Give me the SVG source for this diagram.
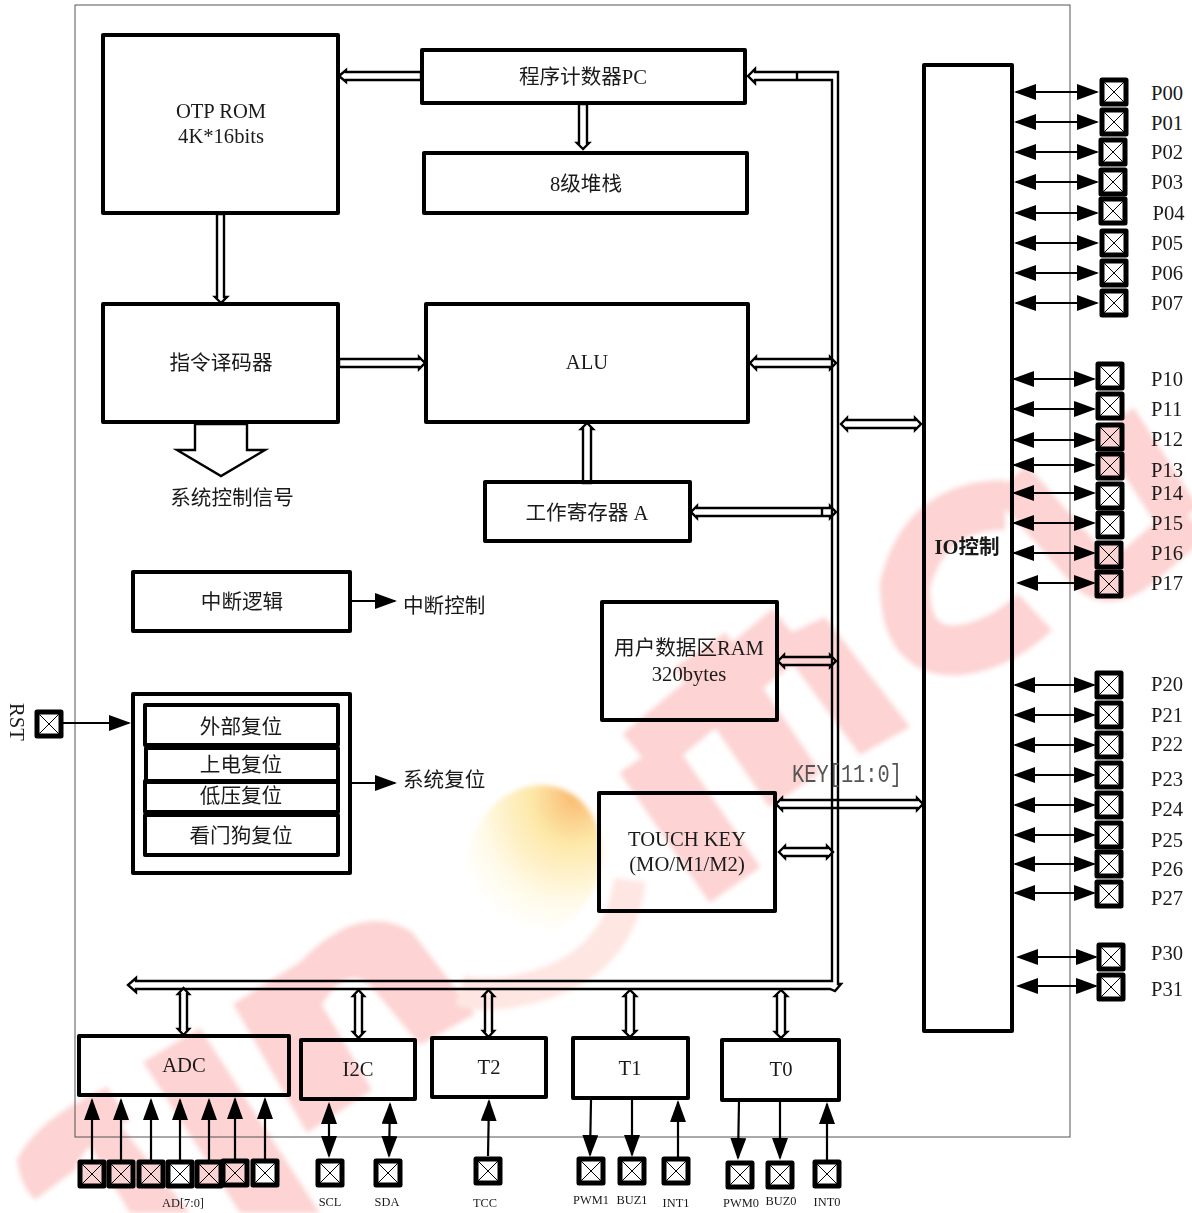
<svg xmlns="http://www.w3.org/2000/svg" width="1192" height="1213" viewBox="0 0 1192 1213">
<style>
text{font-family:"Liberation Serif","Noto Sans CJK SC",serif;font-size:20.6px;fill:#1a1a1a;text-anchor:middle}
.l{text-anchor:start}
.s{font-size:12.4px}
.b{fill:none;stroke:#000;stroke-width:4;stroke-linejoin:round}
.h{fill:none;stroke:#000;stroke-width:2.400;stroke-linejoin:miter}
.a{fill:none;stroke:#000;stroke-width:2.200;marker-end:url(#ah)}
.d{fill:none;stroke:#000;stroke-width:2.200;marker-start:url(#ah);marker-end:url(#ah)}
.wm{fill:#fdd3d3;stroke:none}
.ws{fill:none;stroke:#fdd3d3;stroke-linecap:butt;stroke-linejoin:round}
.wt{fill:#fff}
.pk{fill:#fbd3d3}
</style>
<defs>
<marker id="ah" markerUnits="userSpaceOnUse" markerWidth="22" markerHeight="16" refX="20" refY="8" orient="auto-start-reverse" viewBox="0 0 22 16"><path d="M0 0L22 8L0 16Z" fill="#000"/></marker>
<g id="pad"><rect x="-12" y="-12" width="24" height="24" stroke="#000" stroke-width="5" stroke-linejoin="round"/><path d="M-10-10L10 10M10-10L-10 10" stroke="#000" stroke-width="1" fill="none"/></g>
<radialGradient id="sun" cx="0.62" cy="0" r="0.95"><stop offset="0" stop-color="#fab870"/><stop offset="0.35" stop-color="#fde8a8"/><stop offset="0.75" stop-color="#fffae8"/><stop offset="1" stop-color="#fff"/></radialGradient>
<filter id="bl" x="-5%" y="-5%" width="110%" height="110%"><feGaussianBlur stdDeviation="2.500"/></filter>
</defs>
<g id="watermark" filter="url(#bl)">
<path class="wm" d="M17 1160Q35 1120 107 1087L130 1120Q85 1140 75 1170L35 1200Q20 1185 17 1160Z"/>
<path class="wm" d="M70 1113L100 1100L190 1213H130Z"/>
<path class="wm" d="M143 1062L200 1028L320 1213H240Z"/>
<path class="wm" d="M233 1004L300 962Q360 900 412 932L475 1014L420 1045L370 985Q345 965 322 1005L372 1090L307 1133Z"/>
<ellipse cx="535" cy="860" rx="66" ry="76" fill="url(#sun)" transform="rotate(20 535 860)"/>
<path d="M630 880Q620 960 540 985Q490 1000 460 990" fill="none" stroke="#fee6e2" stroke-width="32"/>
<path class="ws" stroke-width="62" d="M645 755L735 885"/>
<path class="ws" stroke-width="55" d="M640 755L790 630"/>
<path class="ws" stroke-width="62" d="M700 650L795 790"/>
<path class="wm" d="M775 640L825 617L910 727L860 755Z"/>
<path class="ws" stroke-width="50" d="M1005 505Q925 505 905 585Q905 655 960 650Q1000 645 1035 612"/>
<path class="ws" stroke-width="45" d="M1010 480L1090 570Q1110 590 1140 565L1192 520"/>
<path class="ws" stroke-width="45" d="M1115 420L1180 520"/>
</g>
<rect id="frame" x="75" y="5" width="995" height="1132" fill="none" stroke="#555" stroke-width="1"/>
<g id="connectors">
<polygon class="h" points="748,76 755,69 755,72 838,72 838,984 841,984 835,991 830,989 136,989 136,992 128,985 136,978 136,981 832,981 832,80 755,80 755,83"/>
<path class="h" d="M797 72V80"/>
<polygon class="h" points="339,76 346,70 346,72 421,72 421,80 346,80 346,82"/>
<polygon class="h" points="583,149 577,143 579,143 579,104 587,104 587,143 589,143"/>
<polygon class="h" points="221,303 215,297 217,297 217,214 224,214 224,297 227,297"/>
<polygon class="h" points="425,363 419,357 419,359 339,359 339,367 419,367 419,369"/>
<polygon class="h" points="750,363 756,357 756,359 830,359 830,357 836,363 830,369 830,367 756,367 756,369"/>
<polygon class="h" points="587,423 581,429 583,429 583,483 591,483 591,429 593,429"/>
<polygon class="h" points="691,512 697,506 697,508 830,508 830,506 836,512 830,518 830,516 697,516 697,518"/>
<path class="h" d="M822 508V516"/>
<polygon class="h" points="841,424 847,418 847,420 915,420 915,418 921,424 915,430 915,428 847,428 847,430"/>
<polygon class="h" points="778,661 784,655 784,657 830,657 830,655 836,661 830,667 830,665 784,665 784,667"/>
<polygon class="h" points="776,804 782,798 782,800 917,800 917,798 923,804 917,810 917,808 782,808 782,810"/>
<polygon class="h" points="779,852 785,846 785,848 827,848 827,846 833,852 827,858 827,856 785,856 785,858"/>
<polygon class="h" points="183.500,988 178,994 180,994 180,1029 178,1029 183.500,1035 189,1029 187,1029 187,994 189,994"/>
<polygon class="h" points="358.500,990 353,996 355,996 355,1032 353,1032 358.500,1038 364,1032 362,1032 362,996 364,996"/>
<polygon class="h" points="488.500,990 483,996 485,996 485,1031 483,1031 488.500,1037 494,1031 492,1031 492,996 494,996"/>
<polygon class="h" points="630,990 624,996 626,996 626,1031 624,1031 630,1037 636,1031 634,1031 634,996 636,996"/>
<polygon class="h" points="781,990 775,996 777,996 777,1032 775,1032 781,1038 787,1032 785,1032 785,996 787,996"/>
<polygon class="h" points="195,424 195,450 177,450 221,476 265,450 247,450 247,424"/>
<path class="a" d="M352 601H395"/>
<path class="a" d="M352 783H395"/>
<path class="a" d="M63 723H129"/>
<path class="d" d="M1016 92H1097"/><path class="d" d="M1016 122H1097"/><path class="d" d="M1016 152H1097"/><path class="d" d="M1016 182H1097"/><path class="d" d="M1016 213H1097"/><path class="d" d="M1016 243H1097"/><path class="d" d="M1016 273H1097"/><path class="d" d="M1016 303H1097"/>
<path class="d" d="M1014 379H1094"/><path class="d" d="M1014 409H1094"/><path class="d" d="M1014 440H1094"/><path class="d" d="M1014 465H1094"/><path class="d" d="M1014 493H1094"/><path class="d" d="M1014 523H1094"/><path class="d" d="M1014 553H1094"/><path class="d" d="M1018 583H1094"/>
<path class="d" d="M1015 685H1094"/><path class="d" d="M1015 715H1094"/><path class="d" d="M1015 745H1094"/><path class="d" d="M1015 775H1094"/><path class="d" d="M1015 805H1094"/><path class="d" d="M1015 835H1094"/><path class="d" d="M1015 864H1094"/><path class="d" d="M1015 893H1094"/>
<path class="d" d="M1018 957H1096"/><path class="d" d="M1018 986H1096"/>
<path class="a" d="M92 1160V1100"/><path class="a" d="M121 1160V1100"/><path class="a" d="M151 1160V1100"/><path class="a" d="M180 1160V1100"/><path class="a" d="M209 1160V1100"/><path class="a" d="M235 1159V1099"/><path class="a" d="M265 1159V1099"/>
<path class="d" d="M329 1104V1156"/><path class="d" d="M390 1104L389 1156"/>
<path class="a" d="M488 1156L489 1101"/>
<path class="a" d="M591 1100L590 1155"/><path class="a" d="M632 1100V1155"/><path class="a" d="M678 1157V1102"/>
<path class="a" d="M739 1101L738 1158"/><path class="a" d="M780 1101V1158"/><path class="a" d="M827 1160V1104"/>
</g>
<g id="otp"><rect class="b" x="103" y="35" width="235" height="178"/><text x="221" y="118">OTP ROM</text><text x="221" y="143">4K*16bits</text></g>
<g id="pc"><rect class="b" x="422" y="50" width="323" height="53"/><text x="583" y="84">程序计数器PC</text></g>
<g id="stack"><rect class="b" x="424" y="153" width="323" height="60"/><text x="586" y="191">8级堆栈</text></g>
<g id="decoder"><rect class="b" x="103" y="304" width="235" height="118"/><text x="221" y="370">指令译码器</text></g>
<g id="alu"><rect class="b" x="426" y="304" width="322" height="118"/><text x="587" y="369">ALU</text></g>
<g id="ctrl-signal"><text x="232" y="505">系统控制信号</text></g>
<g id="acc"><rect class="b" x="485" y="482" width="205" height="59"/><text x="587" y="520">工作寄存器 A</text></g>
<g id="int"><rect class="b" x="133" y="572" width="217" height="59"/><text x="242" y="609">中断逻辑</text></g>
<g id="int-ctrl"><text class="l" x="403" y="613">中断控制</text></g>
<g id="reset">
<rect class="b" x="133" y="694" width="217" height="179"/>
<rect class="b" x="145" y="705" width="193" height="40"/><text x="241" y="734">外部复位</text>
<text x="241" y="772">上电复位</text><rect class="b" x="146" y="748" width="192" height="34"/>
<rect class="b" x="145" y="781" width="193" height="31"/><text x="241" y="803">低压复位</text>
<rect class="b" x="145" y="815" width="193" height="40"/><text x="241" y="843">看门狗复位</text>
</g>
<g id="sys-reset"><text class="l" x="403" y="787">系统复位</text></g>
<g id="rst"><use href="#pad" x="49" y="724" class="wt"/><text x="16" y="722" transform="rotate(90 16 722)" dy="6">RST</text></g>
<g id="ram"><rect class="b" x="602" y="602" width="175" height="118"/><text x="689" y="655">用户数据区RAM</text><text x="689" y="681">320bytes</text></g>
<g id="touch"><rect class="b" x="599" y="793" width="176" height="118"/><text x="687" y="846">TOUCH KEY</text><text x="687" y="871">(MO/M1/M2)</text></g>
<g id="key-label"><text x="847" y="782" style="font-family:'Liberation Mono',monospace;font-size:25px;fill:#555" textLength="110" lengthAdjust="spacingAndGlyphs">KEY[11:0]</text></g>
<g id="io"><rect class="b" x="924" y="65" width="88" height="966"/><text x="967" y="554" font-weight="bold">IO控制</text></g>
<g id="adc"><rect class="b" x="79" y="1036" width="210" height="59"/><text x="184" y="1072">ADC</text></g>
<g id="i2c"><rect class="b" x="301" y="1040" width="114" height="59"/><text x="358" y="1076">I2C</text></g>
<g id="t2"><rect class="b" x="432" y="1038" width="114" height="59"/><text x="489" y="1074">T2</text></g>
<g id="t1"><rect class="b" x="573" y="1038" width="115" height="60"/><text x="630" y="1075">T1</text></g>
<g id="t0"><rect class="b" x="722" y="1040" width="117" height="60"/><text x="781" y="1076">T0</text></g>
<g id="p00"><use href="#pad" x="1114" y="92" class="wt"/><text class="l" x="1151" y="100">P00</text></g>
<g id="p01"><use href="#pad" x="1114" y="122" class="wt"/><text class="l" x="1151" y="130">P01</text></g>
<g id="p02"><use href="#pad" x="1113" y="152" class="wt"/><text class="l" x="1151" y="159">P02</text></g>
<g id="p03"><use href="#pad" x="1113" y="182" class="wt"/><text class="l" x="1151" y="189">P03</text></g>
<g id="p04"><use href="#pad" x="1113" y="211" class="wt"/><text class="l" x="1152.500" y="220">P04</text></g>
<g id="p05"><use href="#pad" x="1114" y="243" class="wt"/><text class="l" x="1151" y="250">P05</text></g>
<g id="p06"><use href="#pad" x="1114" y="273" class="wt"/><text class="l" x="1151" y="280">P06</text></g>
<g id="p07"><use href="#pad" x="1114" y="303" class="wt"/><text class="l" x="1151" y="310">P07</text></g>
<g id="p10"><use href="#pad" x="1110" y="376" class="wt"/><text class="l" x="1151" y="386">P10</text></g>
<g id="p11"><use href="#pad" x="1110" y="406" class="wt"/><text class="l" x="1151" y="416">P11</text></g>
<g id="p12"><use href="#pad" x="1110" y="437" class="pk"/><text class="l" x="1151" y="446">P12</text></g>
<g id="p13"><use href="#pad" x="1110" y="466" class="pk"/><text class="l" x="1151" y="477">P13</text></g>
<g id="p14"><use href="#pad" x="1110" y="496" class="wt"/><text class="l" x="1151" y="500">P14</text></g>
<g id="p15"><use href="#pad" x="1110" y="525" class="wt"/><text class="l" x="1151" y="530">P15</text></g>
<g id="p16"><use href="#pad" x="1109" y="555" class="pk"/><text class="l" x="1151" y="560">P16</text></g>
<g id="p17"><use href="#pad" x="1109" y="584" class="pk"/><text class="l" x="1151" y="590">P17</text></g>
<g id="p20"><use href="#pad" x="1109" y="685" class="wt"/><text class="l" x="1151" y="691">P20</text></g>
<g id="p21"><use href="#pad" x="1109" y="715" class="wt"/><text class="l" x="1151" y="722">P21</text></g>
<g id="p22"><use href="#pad" x="1109" y="745" class="wt"/><text class="l" x="1151" y="751">P22</text></g>
<g id="p23"><use href="#pad" x="1109" y="775" class="wt"/><text class="l" x="1151" y="786">P23</text></g>
<g id="p24"><use href="#pad" x="1109" y="805" class="wt"/><text class="l" x="1151" y="816">P24</text></g>
<g id="p25"><use href="#pad" x="1109" y="835" class="wt"/><text class="l" x="1151" y="847">P25</text></g>
<g id="p26"><use href="#pad" x="1109" y="864" class="wt"/><text class="l" x="1151" y="876">P26</text></g>
<g id="p27"><use href="#pad" x="1109" y="894" class="wt"/><text class="l" x="1151" y="905">P27</text></g>
<g id="p30"><use href="#pad" x="1111" y="957" class="wt"/><text class="l" x="1151" y="960">P30</text></g>
<g id="p31"><use href="#pad" x="1111" y="987" class="wt"/><text class="l" x="1151" y="996">P31</text></g>
<g id="ad-pads">
<use href="#pad" x="92" y="1174" class="pk"/><use href="#pad" x="121" y="1174" class="pk"/><use href="#pad" x="151" y="1174" class="pk"/><use href="#pad" x="180" y="1174" class="wt"/><use href="#pad" x="209" y="1174" class="pk"/><use href="#pad" x="235" y="1173" class="pk"/><use href="#pad" x="265" y="1173" class="wt"/>
<text class="s" x="183" y="1207">AD[7:0]</text></g>
<g id="scl"><use href="#pad" x="330" y="1173" class="wt"/><text class="s" x="330" y="1206">SCL</text></g>
<g id="sda"><use href="#pad" x="388" y="1173" class="wt"/><text class="s" x="387" y="1206">SDA</text></g>
<g id="tcc"><use href="#pad" x="488" y="1171" class="wt"/><text class="s" x="485" y="1207">TCC</text></g>
<g id="pwm1"><use href="#pad" x="591" y="1171" class="wt"/><text class="s" x="591" y="1204">PWM1</text></g>
<g id="buz1"><use href="#pad" x="632" y="1171" class="wt"/><text class="s" x="632" y="1204">BUZ1</text></g>
<g id="int1"><use href="#pad" x="676" y="1171" class="wt"/><text class="s" x="676" y="1207">INT1</text></g>
<g id="pwm0"><use href="#pad" x="740" y="1175" class="wt"/><text class="s" x="741" y="1207">PWM0</text></g>
<g id="buz0"><use href="#pad" x="780" y="1175" class="wt"/><text class="s" x="781" y="1205">BUZ0</text></g>
<g id="int0"><use href="#pad" x="827" y="1174" class="wt"/><text class="s" x="827" y="1206">INT0</text></g>
</svg>
